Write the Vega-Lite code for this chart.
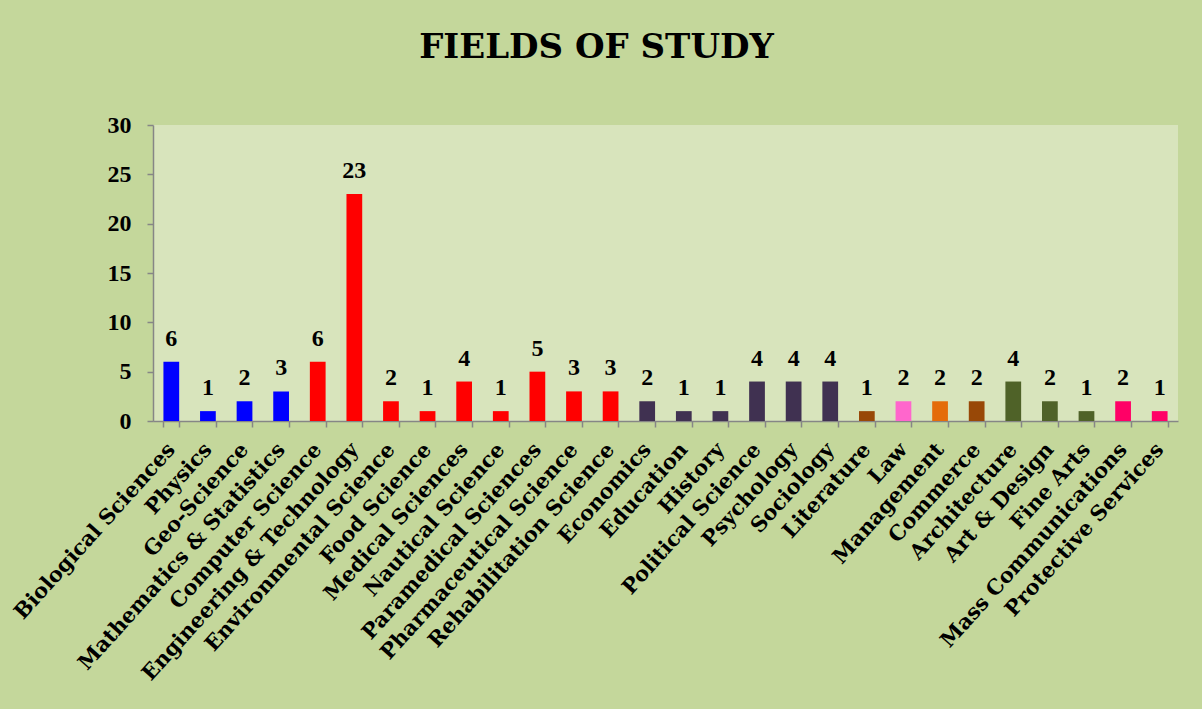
{
  "$schema": "https://vega.github.io/schema/vega-lite/v6.json",
  "width": 1025,
  "height": 296,
  "autosize": {"type": "none"},
  "padding": {"left": 153, "top": 125, "right": 24, "bottom": 288},
  "background": "#C4D79B",
  "title": {
    "text": "FIELDS OF STUDY",
    "font": "DejaVu Serif",
    "fontSize": 34,
    "fontWeight": "bold",
    "color": "#000000",
    "anchor": "middle",
    "frame": "group",
    "dx": -69,
    "offset": 48
  },
  "config": {"view": {"fill": "#D8E4BC", "stroke": null}},
  "data": {
    "values": [
      {"field": "Biological Sciences", "count": 6, "group": "Natural Sciences"},
      {"field": "Physics", "count": 1, "group": "Natural Sciences"},
      {"field": "Geo-Science", "count": 2, "group": "Natural Sciences"},
      {"field": "Mathematics & Statistics", "count": 3, "group": "Natural Sciences"},
      {"field": "Computer Science", "count": 6, "group": "Applied Sciences"},
      {"field": "Engineering & Technology", "count": 23, "group": "Applied Sciences"},
      {"field": "Environmental Science", "count": 2, "group": "Applied Sciences"},
      {"field": "Food Science", "count": 1, "group": "Applied Sciences"},
      {"field": "Medical Sciences", "count": 4, "group": "Applied Sciences"},
      {"field": "Nautical Science", "count": 1, "group": "Applied Sciences"},
      {"field": "Paramedical Sciences", "count": 5, "group": "Applied Sciences"},
      {"field": "Pharmaceutical Science", "count": 3, "group": "Applied Sciences"},
      {"field": "Rehabilitation Science", "count": 3, "group": "Applied Sciences"},
      {"field": "Economics", "count": 2, "group": "Social Sciences"},
      {"field": "Education", "count": 1, "group": "Social Sciences"},
      {"field": "History", "count": 1, "group": "Social Sciences"},
      {"field": "Political Science", "count": 4, "group": "Social Sciences"},
      {"field": "Psychology", "count": 4, "group": "Social Sciences"},
      {"field": "Sociology", "count": 4, "group": "Social Sciences"},
      {"field": "Literature", "count": 1, "group": "Humanities"},
      {"field": "Law", "count": 2, "group": "Law"},
      {"field": "Management", "count": 2, "group": "Management"},
      {"field": "Commerce", "count": 2, "group": "Commerce"},
      {"field": "Architecture", "count": 4, "group": "Design"},
      {"field": "Art & Design", "count": 2, "group": "Design"},
      {"field": "Fine Arts", "count": 1, "group": "Design"},
      {"field": "Mass Communications", "count": 2, "group": "Media & Services"},
      {"field": "Protective Services", "count": 1, "group": "Media & Services"}
    ]
  },
  "encoding": {
    "x": {
      "field": "field",
      "type": "nominal",
      "sort": null,
      "title": null,
      "scale": {"paddingInner": 0.57, "paddingOuter": 0.285},
      "axis": {
        "domainColor": "#868686",
        "domainWidth": 1.5,
        "tickColor": "#868686",
        "tickWidth": 1.5,
        "tickSize": 6,
        "tickBand": "extent",
        "labelAngle": -48,
        "labelAlign": "right",
        "labelBaseline": "middle",
        "labelPadding": 19,
        "labelFont": "DejaVu Serif",
        "labelFontWeight": "bold",
        "labelFontSize": 21,
        "labelColor": "#000000",
        "labelOverlap": false,
        "labelLimit": 0
      }
    },
    "y": {
      "field": "count",
      "type": "quantitative",
      "title": null,
      "scale": {"domain": [0, 30], "nice": false},
      "axis": {
        "values": [0, 5, 10, 15, 20, 25, 30],
        "grid": false,
        "domainColor": "#868686",
        "domainWidth": 1.5,
        "tickColor": "#868686",
        "tickWidth": 1.5,
        "tickSize": 6,
        "labelPadding": 16,
        "labelFont": "Liberation Serif",
        "labelFontWeight": "bold",
        "labelFontSize": 24,
        "labelColor": "#000000"
      }
    }
  },
  "layer": [
    {
      "mark": {"type": "bar"},
      "encoding": {
        "color": {
          "field": "group",
          "type": "nominal",
          "legend": null,
          "scale": {
            "domain": ["Natural Sciences", "Applied Sciences", "Social Sciences", "Humanities", "Law", "Management", "Commerce", "Design", "Media & Services"],
            "range": ["#0000FF", "#FF0000", "#403151", "#984807", "#FF66CC", "#E46C0A", "#984807", "#4F6228", "#FF0066"]
          }
        }
      }
    },
    {
      "mark": {
        "type": "text",
        "baseline": "alphabetic",
        "dy": -16,
        "font": "Liberation Serif",
        "fontWeight": "bold",
        "fontSize": 24,
        "color": "#000000"
      },
      "encoding": {"text": {"field": "count", "type": "quantitative"}}
    }
  ]
}
